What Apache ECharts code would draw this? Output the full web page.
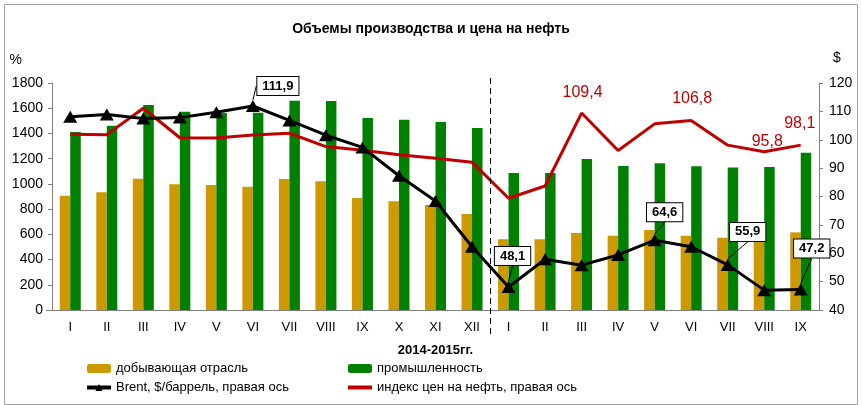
<!DOCTYPE html>
<html>
<head>
<meta charset="utf-8">
<script src="https://cdn.jsdelivr.net/npm/echarts@6/dist/echarts.min.js"></script>
<style>
  html, body { margin: 0; padding: 0; background: #fff; }
  #chart { width: 862px; height: 405px; }
</style>
</head>
<body>
<div id="chart"></div>
<script>
// months 2014 (I-XII) and 2015 (I-IX)
const months = ['I', 'II', 'III', 'IV', 'V', 'VI', 'VII', 'VIII', 'IX', 'X', 'XI', 'XII',
    'I', 'II', 'III', 'IV', 'V', 'VI', 'VII', 'VIII', 'IX'];
// left axis, %
const mining = [905, 933, 1041, 997, 991, 978, 1039, 1020, 888, 862, 833, 761,
    561, 561, 611, 589, 634, 589, 573, 560, 616];
const industry = [1412, 1462, 1626, 1573, 1562, 1565, 1660, 1657, 1523, 1509, 1491, 1443,
    1086, 1086, 1197, 1142, 1163, 1139, 1129, 1134, 1247];
// right axis
const brent = [108.1, 108.9, 107.5, 107.8, 109.7, 111.9, 106.8, 101.6, 97.3, 87.3, 78.4, 62.3,
    48.1, 57.9, 55.8, 59.4, 64.6, 62.3, 55.9, 47.0, 47.2];
const oilIndex = [101.9, 101.8, 111.1, 100.7, 100.6, 101.7, 102.3, 97.6, 96.3, 94.7, 93.5, 92.1,
    79.4, 83.7, 109.4, 96.2, 105.6, 106.8, 98.1, 95.8, 98.1];
const brentLabeled = [5, 12, 16, 18, 20];
const indexLabeled = [14, 17, 19, 20];

const FONT = 'Liberation Sans, Arial, sans-serif';
const fmt = v => String(v).replace('.', ',');

// callout box offsets for the Brent labels
const brentShift = { 5: [25, -20], 12: [4, -31], 16: [10, -28], 18: [20, -33], 20: [11, -41] };
const indexShift = { 14: [1, -20], 17: [1, -22], 19: [3, -10], 20: [-1, -22] };

const chart = echarts.init(document.getElementById('chart'), null, { renderer: 'canvas' });

const legendText = { fontSize: 13, color: '#000', fontFamily: FONT };

let option = {
    animation: false,
    backgroundColor: '#fff',
    textStyle: { fontFamily: FONT },
    title: {
        text: 'Объемы производства и цена на нефть',
        left: 'center',
        top: 17,
        textStyle: { fontSize: 14, fontWeight: 'bold', color: '#000', fontFamily: FONT }
    },
    legend: [{
        data: ['добывающая отрасль',
            { name: 'Brent, $/баррель, правая ось', lineStyle: { width: 4 } }],
        orient: 'vertical',
        left: 85,
        top: 362,
        padding: 0,
        itemGap: 6,
        itemWidth: 24,
        itemHeight: 9,
        textStyle: legendText
    }, {
        data: ['промышленность',
            { name: 'индекс цен на нефть, правая ось', itemStyle: { opacity: 0 }, lineStyle: { width: 4 } }],
        orient: 'vertical',
        left: 346,
        top: 362,
        padding: 0,
        itemGap: 6,
        itemWidth: 24,
        itemHeight: 9,
        textStyle: legendText
    }],
    grid: { left: 52, right: 43, top: 83, bottom: 95 },
    xAxis: {
        type: 'category',
        data: months,
        name: '2014-2015гг.',
        nameLocation: 'middle',
        nameGap: 34,
        nameTextStyle: { fontWeight: 'bold', fontSize: 13, color: '#000' },
        axisLine: { lineStyle: { color: '#808080' } },
        axisTick: { show: false },
        axisLabel: { color: '#000', fontSize: 13, margin: 11, interval: 0 }
    },
    yAxis: [{
        type: 'value',
        min: 0, max: 1800, interval: 200,
        name: '%',
        nameLocation: 'end',
        nameGap: 16,
        nameTextStyle: { color: '#000', fontSize: 14, align: 'right', padding: [0, 30, 0, 0] },
        splitLine: { show: false },
        axisLine: { show: true, lineStyle: { color: '#808080' } },
        axisTick: { show: true, length: 4, lineStyle: { color: '#808080' } },
        axisLabel: { color: '#000', fontSize: 14, margin: 9, formatter: v => String(v) }
    }, {
        type: 'value',
        min: 40, max: 120, interval: 10,
        name: '$',
        nameLocation: 'end',
        nameGap: 18,
        nameTextStyle: { color: '#000', fontSize: 14, align: 'left', padding: [0, 0, 0, 14] },
        splitLine: { show: false },
        axisLine: { show: true, lineStyle: { color: '#808080' } },
        axisTick: { show: true, length: 4, lineStyle: { color: '#808080' } },
        axisLabel: { color: '#000', fontSize: 14, margin: 10 }
    }],
    series: [{
        name: 'добывающая отрасль',
        type: 'bar',
        data: mining,
        barWidth: 10.5,
        barGap: '0%',
        itemStyle: { color: '#CC9900' },
        z: 1
    }, {
        name: 'промышленность',
        type: 'bar',
        data: industry,
        barWidth: 10.5,
        barGap: '0%',
        itemStyle: { color: '#008000' },
        z: 1
    }, {
        name: 'индекс цен на нефть, правая ось',
        type: 'line',
        yAxisIndex: 1,
        symbol: 'circle',
        symbolSize: 0.1,
        lineStyle: { color: '#C00000', width: 3 },
        itemStyle: { color: '#C00000' },
        z: 3,
        data: oilIndex.map((v, i) => {
            if (indexLabeled.indexOf(i) < 0) return v;
            return {
                value: v,
                label: {
                    show: true,
                    position: 'inside',
                    offset: indexShift[i],
                    formatter: p => fmt(p.value),
                    color: '#C00000',
                    fontSize: 16
                }
            };
        })
    }, {
        name: 'Brent, $/баррель, правая ось',
        type: 'line',
        yAxisIndex: 1,
        symbol: 'triangle',
        symbolSize: [14, 12],
        lineStyle: { color: '#000', width: 3 },
        itemStyle: { color: '#000' },
        z: 4,
        data: brent.map((v, i) => {
            if (brentLabeled.indexOf(i) < 0) return v;
            return {
                value: v,
                label: {
                    show: true,
                    position: 'inside',
                    formatter: p => fmt(p.value),
                    color: '#000',
                    fontSize: 13,
                    fontWeight: 'bold',
                    backgroundColor: '#fff',
                    borderColor: '#000',
                    borderWidth: 1,
                    padding: [3, 5, 2, 5]
                },
                labelLine: { show: true, lineStyle: { color: '#000', width: 1 } }
            };
        }),
        labelLayout: function (p) {
            const s = brentShift[p.dataIndex];
            if (!s) return {};
            return { dx: s[0], dy: s[1] };
        },
        labelLine: { show: true, lineStyle: { color: '#000', width: 1 } }
    }]
};
chart.setOption(option);

// dashed divider between the years and outer frame
const xa = chart.convertToPixel({ xAxisIndex: 0 }, 11);
const xb = chart.convertToPixel({ xAxisIndex: 0 }, 12);
const xm = Math.round((xa + xb) / 2) + 0.5;
chart.setOption({
    graphic: [{
        type: 'line',
        shape: { x1: xm, y1: 78, x2: xm, y2: 337 },
        style: { stroke: '#000', lineWidth: 1, lineDash: [6, 4] },
        z: 10
    }, {
        type: 'line',
        shape: { x1: 46, y1: 310.5, x2: 52, y2: 310.5 },
        style: { stroke: '#808080', lineWidth: 1 }
    }, {
        type: 'rect',
        shape: { x: 4.5, y: 4.5, width: 853, height: 400 },
        style: { fill: 'none', stroke: '#a0a0a0', lineWidth: 1 },
        silent: true
    }]
});
</script>
</body>
</html>
